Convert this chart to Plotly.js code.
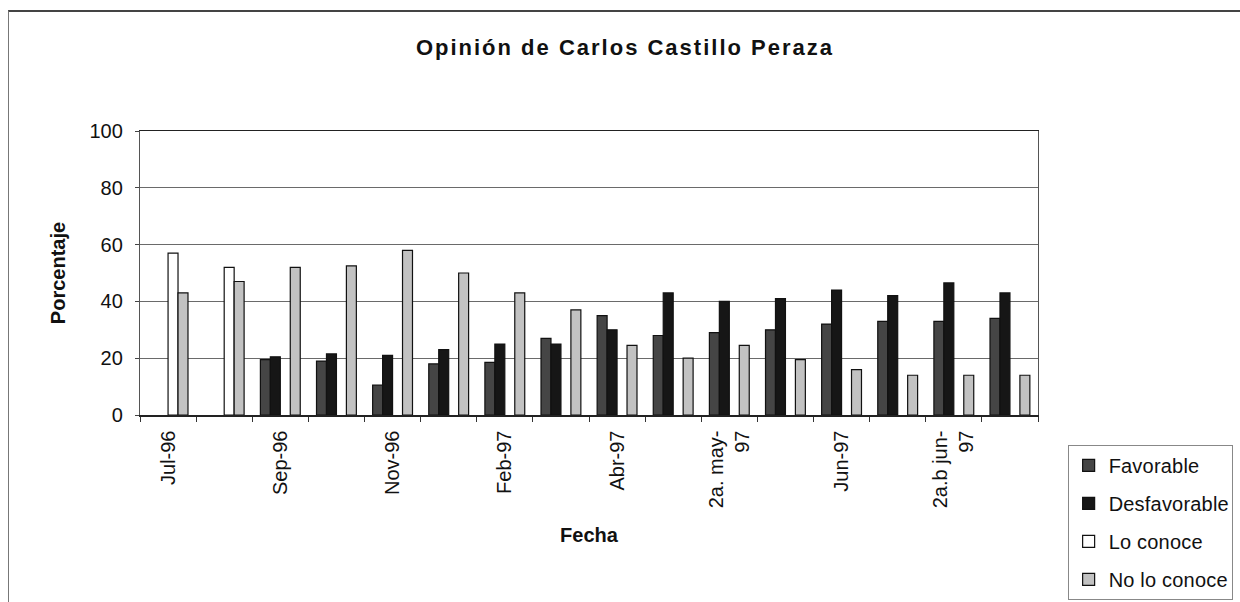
<!DOCTYPE html>
<html>
<head>
<meta charset="utf-8">
<script src="https://cdn.plot.ly/plotly-3.0.1.min.js"></script>
<style>
  html, body { margin: 0; padding: 0; background: #fff; }
  #wrap { position: relative; width: 1240px; height: 602px; }
  #chart { position: absolute; left: 0; top: 0; width: 1240px; height: 602px; }
  #frame { position: absolute; left: 8px; top: 10px; width: 1240px; height: 600px;
           border-top: 2px solid #444; border-left: 1px solid #777; pointer-events: none; }
  #chart .gtitle { letter-spacing: 2px; }
  #chart .legendtext { letter-spacing: 0.2px; }
</style>
</head>
<body>
<div id="wrap">
  <div id="chart"></div>
  <div id="frame"></div>
</div>
<script>
// Tick labels (only every other date is labelled in the original)
const tickLabels = [
  "Jul-96", "", "Sep-96", "", "Nov-96", "", "Feb-97", "",
  "Abr-97", "", "2a. may-<br>97", "", "Jun-97", "", "2a.b jun-<br>97", ""
];

// Series values (percent); null = no bar
const favorable    = [null, null, 19.5, 19, 10.5, 18, 18.5, 27, 35, 28, 29, 30, 32, 33, 33, 34];
const desfavorable = [null, null, 20.5, 21.5, 21, 23, 25, 25, 30, 43, 40, 41, 44, 42, 46.5, 43];
const loConoce     = [57, 52, null, null, null, null, null, null, null, null, null, null, null, null, null, null];
const noLoConoce   = [43, 47, 52, 52.5, 58, 50, 43, 37, 24.5, 20, 24.5, 19.5, 16, 14, 14, 14];

const seriesNames = ["Favorable", "Desfavorable", "Lo conoce", "No lo conoce"];

const xIdx = tickLabels.map((_, i) => i);
const FONT = "Liberation Sans, Arial, sans-serif";

const colors = ["#454545", "#161616", "#ffffff", "#c2c2c2"];
const values = [favorable, desfavorable, loConoce, noLoConoce];

const traces = values.map((v, k) => ({
  type: "bar",
  name: seriesNames[k],
  x: xIdx,
  y: v,
  legendgroup: "g" + k,
  marker: { color: colors[k], line: { color: "#111", width: 1.2 } },
  hoverinfo: "name+y"
}));

const evenIdx = xIdx.filter(i => tickLabels[i] !== "");
const boundaries = xIdx.map(i => i - 0.5).concat([xIdx.length - 0.5]);

const layout = {
  width: 1240,
  height: 602,
  margin: { l: 140, r: 202, t: 131, b: 187, autoexpand: false },
  paper_bgcolor: "#fff",
  plot_bgcolor: "#fff",
  font: { family: FONT, color: "#111", size: 20 },
  title: {
    text: "Opinión de Carlos Castillo Peraza",
    font: { family: FONT, size: 22, weight: "bold", color: "#111" },
    x: 0.504, xref: "container", xanchor: "center",
    y: 1 - 47 / 602, yref: "container", yanchor: "middle"
  },
  barmode: "group",
  bargap: 0.29,
  bargroupgap: 0,
  showlegend: true,
  legend: {
    x: 1.033, xanchor: "left",
    y: -0.105, yanchor: "top",
    bordercolor: "#888", borderwidth: 1,
    bgcolor: "#fff",
    font: { family: FONT, size: 20, color: "#111" },
    traceorder: "grouped",
    tracegroupgap: 9
  },
  xaxis: {
    type: "linear",
    range: [-0.5, xIdx.length - 0.5],
    tickmode: "array",
    tickvals: evenIdx,
    ticktext: evenIdx.map(i => tickLabels[i]),
    tickangle: -90,
    ticks: "",
    ticklabelstandoff: 6,
    tickfont: { family: FONT, size: 20, color: "#111" },
    minor: { tickmode: "array", tickvals: boundaries, ticks: "outside", ticklen: 5, tickcolor: "#333", tickwidth: 1, showgrid: false },
    showgrid: false,
    zeroline: false,
    showline: true, linecolor: "#222", linewidth: 1.5,
    mirror: true,
    title: { text: "Fecha", font: { family: FONT, size: 20, weight: "bold", color: "#111" }, standoff: 20 }
  },
  yaxis: {
    range: [0, 100],
    tickmode: "linear", tick0: 0, dtick: 20,
    ticks: "outside", ticklen: 4, tickcolor: "#444",
    tickfont: { family: FONT, size: 20, color: "#111" },
    ticklabelstandoff: 8,
    showgrid: true, gridcolor: "#6a6a6a", gridwidth: 1,
    zeroline: false,
    showline: true, linecolor: "#555", linewidth: 1.2,
    mirror: true,
    title: { text: "Porcentaje", font: { family: FONT, size: 20, weight: "bold", color: "#111" }, standoff: 18 }
  }
};

Plotly.newPlot("chart", traces, layout, { displayModeBar: false, staticPlot: true });
</script>
</body>
</html>
